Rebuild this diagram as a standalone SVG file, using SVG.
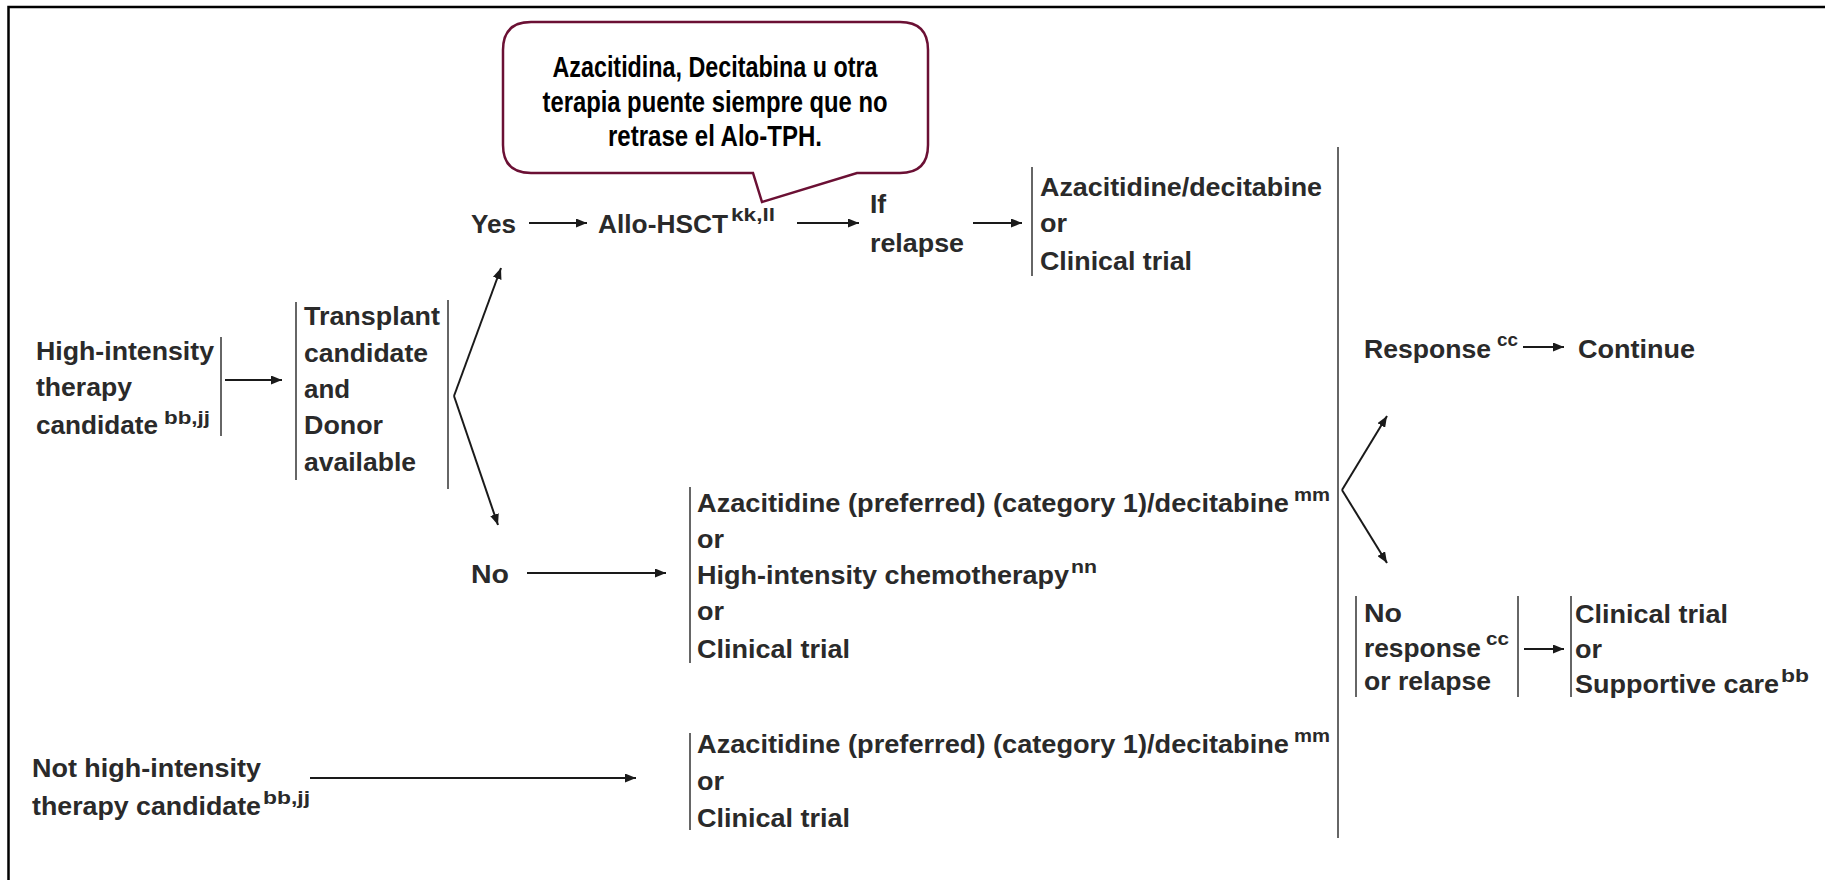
<svg xmlns="http://www.w3.org/2000/svg" width="1825" height="880" viewBox="0 0 1825 880">
<style>
.t{font-family:"Liberation Sans",Arial,sans-serif;font-size:26.5px;font-weight:bold;fill:#2a2a2a}
.s{font-family:"Liberation Sans",Arial,sans-serif;font-size:18px;font-weight:bold;fill:#2a2a2a}
.b{font-family:"Liberation Sans",Arial,sans-serif;font-size:29px;font-weight:bold;fill:#000;text-anchor:middle}
.br{stroke:#333;stroke-width:1.5;fill:none}
.ar{stroke:#1a1a1a;stroke-width:2;fill:none;marker-end:url(#ah)}
</style>
<defs>
<marker id="ah" markerUnits="userSpaceOnUse" markerWidth="11" markerHeight="9" refX="11" refY="4.5" orient="auto">
<path d="M0,0 L11,4.5 L0,9 z" fill="#1a1a1a"/>
</marker>
</defs>
<rect width="1825" height="880" fill="#fff"/>
<path d="M8.5,880 V7 H1825" fill="none" stroke="#000" stroke-width="2.5"/>

<g id="callout">
<path d="M531,22 H900 Q928,22 928,50 V145 Q928,173 900,173 H857 L762,202 L753,173 H531 Q503,173 503,145 V50 Q503,22 531,22 Z" fill="#fff" stroke="#6b1034" stroke-width="2.5"/>
<text class="b" x="715" y="77" textLength="325" lengthAdjust="spacingAndGlyphs">Azacitidina, Decitabina u otra</text>
<text class="b" x="715" y="112" textLength="345" lengthAdjust="spacingAndGlyphs">terapia puente siempre que no</text>
<text class="b" x="715" y="146" textLength="214" lengthAdjust="spacingAndGlyphs">retrase el Alo-TPH.</text>
</g>

<g id="high-intensity">
<text class="t" x="36" y="360" textLength="178" lengthAdjust="spacingAndGlyphs">High-intensity</text>
<text class="t" x="36" y="396" textLength="96" lengthAdjust="spacingAndGlyphs">therapy</text>
<text class="t" x="36" y="434" textLength="122" lengthAdjust="spacingAndGlyphs">candidate</text>
<text class="s" x="164" y="424" textLength="46" lengthAdjust="spacingAndGlyphs">bb,jj</text>
<line class="br" x1="221" y1="337" x2="221" y2="436"/>
</g>

<g id="transplant">
<line class="br" x1="296" y1="302" x2="296" y2="480"/>
<text class="t" x="304" y="325" textLength="136" lengthAdjust="spacingAndGlyphs">Transplant</text>
<text class="t" x="304" y="362" textLength="124" lengthAdjust="spacingAndGlyphs">candidate</text>
<text class="t" x="304" y="398" textLength="46" lengthAdjust="spacingAndGlyphs">and</text>
<text class="t" x="304" y="434" textLength="79" lengthAdjust="spacingAndGlyphs">Donor</text>
<text class="t" x="304" y="471" textLength="112" lengthAdjust="spacingAndGlyphs">available</text>
<line class="br" x1="448" y1="300" x2="448" y2="489"/>
</g>

<g id="yes">
<text class="t" x="471" y="233" textLength="45" lengthAdjust="spacingAndGlyphs">Yes</text>
</g>

<g id="allo-hsct">
<text class="t" x="598" y="233" textLength="130" lengthAdjust="spacingAndGlyphs">Allo-HSCT</text>
<text class="s" x="731" y="221" textLength="44" lengthAdjust="spacingAndGlyphs">kk,ll</text>
</g>

<g id="if-relapse">
<text class="t" x="870" y="213">If</text>
<text class="t" x="870" y="252" textLength="94" lengthAdjust="spacingAndGlyphs">relapse</text>
</g>

<g id="relapse-options">
<line class="br" x1="1032" y1="167" x2="1032" y2="276"/>
<text class="t" x="1040" y="196" textLength="282" lengthAdjust="spacingAndGlyphs">Azacitidine/decitabine</text>
<text class="t" x="1040" y="232" textLength="27" lengthAdjust="spacingAndGlyphs">or</text>
<text class="t" x="1040" y="270" textLength="152" lengthAdjust="spacingAndGlyphs">Clinical trial</text>
</g>

<g id="no">
<text class="t" x="471" y="583" textLength="38" lengthAdjust="spacingAndGlyphs">No</text>
</g>

<g id="no-options">
<line class="br" x1="690" y1="487" x2="690" y2="663"/>
<text class="t" x="697" y="512" textLength="592" lengthAdjust="spacingAndGlyphs">Azacitidine (preferred) (category 1)/decitabine</text>
<text class="s" x="1294" y="501" textLength="36" lengthAdjust="spacingAndGlyphs">mm</text>
<text class="t" x="697" y="548" textLength="27" lengthAdjust="spacingAndGlyphs">or</text>
<text class="t" x="697" y="584" textLength="372" lengthAdjust="spacingAndGlyphs">High-intensity chemotherapy</text>
<text class="s" x="1071" y="573" textLength="26" lengthAdjust="spacingAndGlyphs">nn</text>
<text class="t" x="697" y="620" textLength="27" lengthAdjust="spacingAndGlyphs">or</text>
<text class="t" x="697" y="658" textLength="153" lengthAdjust="spacingAndGlyphs">Clinical trial</text>
</g>

<g id="not-high-intensity">
<text class="t" x="32" y="777" textLength="229" lengthAdjust="spacingAndGlyphs">Not high-intensity</text>
<text class="t" x="32" y="815" textLength="229" lengthAdjust="spacingAndGlyphs">therapy candidate</text>
<text class="s" x="263" y="804" textLength="47" lengthAdjust="spacingAndGlyphs">bb,jj</text>
</g>

<g id="not-options">
<line class="br" x1="690" y1="733" x2="690" y2="830"/>
<text class="t" x="697" y="753" textLength="592" lengthAdjust="spacingAndGlyphs">Azacitidine (preferred) (category 1)/decitabine</text>
<text class="s" x="1294" y="742" textLength="36" lengthAdjust="spacingAndGlyphs">mm</text>
<text class="t" x="697" y="790" textLength="27" lengthAdjust="spacingAndGlyphs">or</text>
<text class="t" x="697" y="827" textLength="153" lengthAdjust="spacingAndGlyphs">Clinical trial</text>
</g>

<g id="response">
<text class="t" x="1364" y="358" textLength="127" lengthAdjust="spacingAndGlyphs">Response</text>
<text class="s" x="1497" y="346" textLength="21" lengthAdjust="spacingAndGlyphs">cc</text>
</g>

<g id="continue">
<text class="t" x="1578" y="358" textLength="117" lengthAdjust="spacingAndGlyphs">Continue</text>
</g>

<g id="no-response">
<line class="br" x1="1356" y1="596" x2="1356" y2="697"/>
<text class="t" x="1364" y="622" textLength="38" lengthAdjust="spacingAndGlyphs">No</text>
<text class="t" x="1364" y="657" textLength="117" lengthAdjust="spacingAndGlyphs">response</text>
<text class="s" x="1486" y="645" textLength="23" lengthAdjust="spacingAndGlyphs">cc</text>
<text class="t" x="1364" y="690" textLength="127" lengthAdjust="spacingAndGlyphs">or relapse</text>
<line class="br" x1="1518" y1="596" x2="1518" y2="697"/>
</g>

<g id="final-options">
<line class="br" x1="1571" y1="596" x2="1571" y2="697"/>
<text class="t" x="1575" y="623" textLength="153" lengthAdjust="spacingAndGlyphs">Clinical trial</text>
<text class="t" x="1575" y="658" textLength="27" lengthAdjust="spacingAndGlyphs">or</text>
<text class="t" x="1575" y="693" textLength="204" lengthAdjust="spacingAndGlyphs">Supportive care</text>
<text class="s" x="1781" y="682" textLength="28" lengthAdjust="spacingAndGlyphs">bb</text>
</g>

<g id="connectors">
<line class="ar" x1="225" y1="380" x2="282" y2="380"/>
<line class="ar" x1="454" y1="396" x2="501" y2="268"/>
<line class="ar" x1="454" y1="396" x2="498" y2="525"/>
<line class="ar" x1="529" y1="223" x2="587" y2="223"/>
<line class="ar" x1="797" y1="223" x2="859" y2="223"/>
<line class="ar" x1="973" y1="223" x2="1022" y2="223"/>
<line class="ar" x1="527" y1="573" x2="666" y2="573"/>
<line class="ar" x1="310" y1="778" x2="636" y2="778"/>
<line x1="1338" y1="147" x2="1338" y2="838" stroke="#333" stroke-width="1.5"/>
<line class="ar" x1="1342" y1="490" x2="1387" y2="416"/>
<line class="ar" x1="1342" y1="490" x2="1387" y2="563"/>
<line class="ar" x1="1523" y1="347" x2="1564" y2="347"/>
<line class="ar" x1="1524" y1="649" x2="1564" y2="649"/>
</g>
</svg>
